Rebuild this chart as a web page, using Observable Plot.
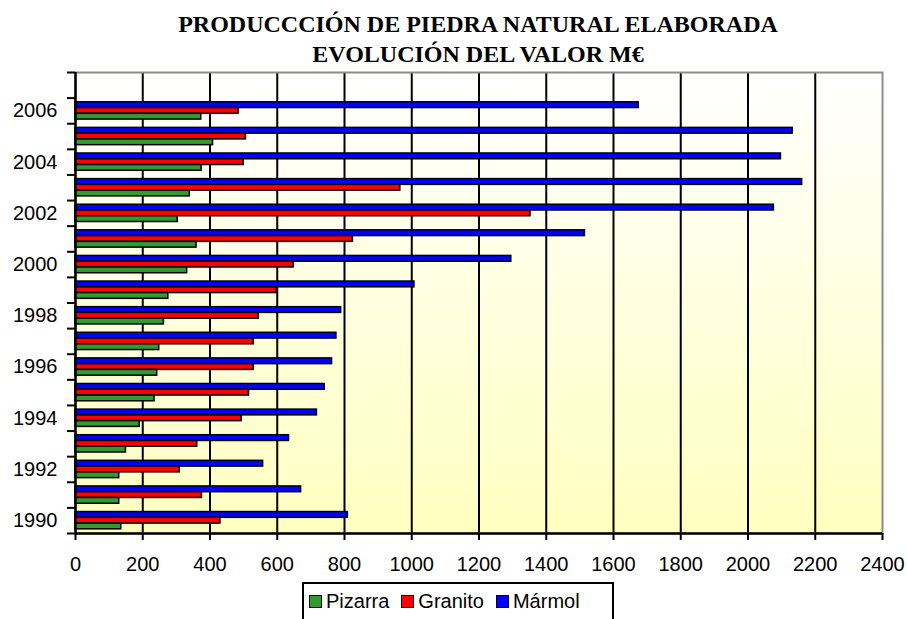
<!DOCTYPE html>
<html><head><meta charset="utf-8">
<script src="https://cdn.jsdelivr.net/npm/d3@7"></script>
<script src="https://cdn.jsdelivr.net/npm/@observablehq/plot@0.6"></script>
<style>
body{margin:0;background:#fff;}
#wrap{position:relative;width:907px;height:619px;overflow:hidden;}
#title{position:absolute;left:0;top:8.6px;width:956px;text-align:center;font-family:"Liberation Serif","Times New Roman",serif;font-weight:bold;font-size:24px;line-height:30px;color:#000;}
#chart{position:absolute;left:0;top:0;}
#legend{position:absolute;left:302px;top:582px;width:312px;height:50px;box-sizing:border-box;border:2px solid #000;background:#fff;padding:6.7px 0 0 5px;font-family:"Liberation Sans",Arial,sans-serif;font-size:20px;line-height:20px;white-space:nowrap;}
#legend .item{display:inline-block;margin-right:12px;}
#legend .sw{display:inline-block;width:13px;height:13px;box-sizing:border-box;border:1.5px solid #000;margin-right:4px;vertical-align:baseline;}
</style></head>
<body>
<div id="wrap">
  <div id="chart"></div>
  <div id="title">PRODUCCCIÓN DE PIEDRA NATURAL ELABORADA<br>EVOLUCIÓN DEL VALOR M€</div>
  <div id="legend"></div>
</div>
<script>
const years = [1990,1991,1992,1993,1994,1995,1996,1997,1998,1999,2000,2001,2002,2003,2004,2005,2006];
const marmol  = [810,671,558,635,718,741,763,776,790,1008,1296,1515,2077,2161,2098,2133,1675];
const granito = [431,376,310,362,494,516,530,530,545,598,649,825,1353,966,500,507,485];
const pizarra = [136,130,130,150,191,235,243,249,263,276,332,360,304,340,375,409,374];
const seriesNames  = ["Mármol","Granito","Pizarra"];
const seriesColors = ["#0000ff","#ff0000","#339933"];
const legendOrder  = ["Pizarra","Granito","Mármol"];
const xTicks = d3.range(0, 2401, 200);
const yLabelYears = [1990,1992,1994,1996,1998,2000,2002,2004,2006];
const yDomain = [1989.5, 2007.5];

// grouped bar layout (fraction of a year band)
const barH = 0.225;
const offsets = {"Mármol": barH, "Granito": 0, "Pizarra": -barH};
const values = {"Mármol": marmol, "Granito": granito, "Pizarra": pizarra};

const data = [];
seriesNames.forEach(s => {
  years.forEach((yr, i) => {
    const c = yr + offsets[s];
    data.push({series: s, year: yr, value: values[s][i], y1: c - barH/2, y2: c + barH/2});
  });
});

const boundaries = d3.range(yDomain[0], yDomain[1] + 0.01, 1);

const plot = Plot.plot({
  width: 907,
  height: 583,
  marginTop: 72,
  marginLeft: 75,
  marginRight: 25,
  marginBottom: 50,
  style: {fontFamily: "'Liberation Sans', Arial, sans-serif", fontSize: "20px", color: "#000", background: "transparent"},
  x: {domain: [0, 2400], label: null},
  y: {domain: yDomain, label: null},
  color: {domain: seriesNames, range: seriesColors},
  marks: [
    Plot.frame({fill: "url(#bgGrad)", stroke: "none"}),
    Plot.ruleX(xTicks.filter(d => d > 0 && d < 2400), {stroke: "#000", strokeWidth: 2}),
    Plot.frame({stroke: "#8c8c8c", strokeWidth: 2}),
    Plot.rectX(data, {x: "value", y1: "y1", y2: "y2", fill: "series", stroke: "#000", strokeWidth: 1.5}),
    Plot.ruleX([0], {stroke: "#000", strokeWidth: 2.5}),
    Plot.ruleY([yDomain[0]], {stroke: "#000", strokeWidth: 2.5}),
    Plot.axisX({ticks: xTicks, tickSize: 7, tickPadding: 16, strokeWidth: 2, tickFormat: d => String(d), fontSize: 20}),
    Plot.axisY({ticks: boundaries, tickSize: 8, strokeWidth: 2, tickFormat: () => ""}),
    Plot.axisY({ticks: yLabelYears, tickSize: 0, tickPadding: 18, tickFormat: d => String(d), fontSize: 20})
  ]
});

const svg = d3.select(plot);
const defs = svg.insert("defs", ":first-child");
const g = defs.append("linearGradient").attr("id", "bgGrad").attr("x1", 0).attr("y1", 0).attr("x2", 0).attr("y2", 1);
g.append("stop").attr("offset", 0).attr("stop-color", "#ffffff");
g.append("stop").attr("offset", 1).attr("stop-color", "#ffffc0");
document.getElementById("chart").appendChild(plot);

const leg = d3.select("#legend");
legendOrder.forEach(name => {
  const it = leg.append("span").attr("class", "item");
  it.append("span").attr("class", "sw").style("background", seriesColors[seriesNames.indexOf(name)]);
  it.append("span").text(name);
});
</script>
</body></html>
